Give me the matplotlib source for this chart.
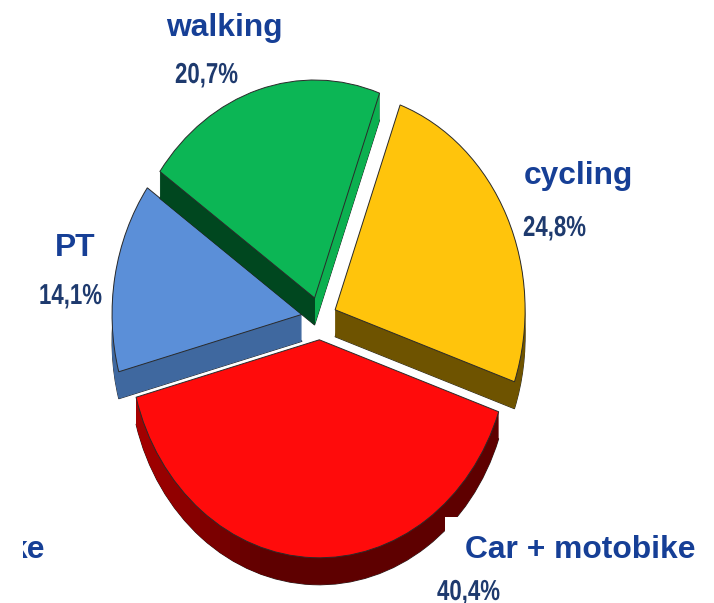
import numpy as np
import matplotlib
matplotlib.use("Agg")
import matplotlib.pyplot as plt
from matplotlib.colors import to_rgb
from matplotlib.patches import Rectangle
from matplotlib.path import Path
from matplotlib.patheffects import AbstractPathEffect
from matplotlib.transforms import Affine2D, Bbox
from matplotlib import font_manager as fm

labels = ["cycling", "Car + motobike", "PT", "walking"]
values = [24.8, 40.4, 14.1, 20.7]
pct_labels = ["24,8%", "40,4%", "14,1%", "20,7%"]
colors = ["#ffc40c", "#ff0b0b", "#5b8fd8", "#0cb655"]
wall_colors = ["#6e5300", "#5e0000", "#3f689f", "#00471f"]
explode = [0.088, 0.10, 0.096, 0.096]

W, H = 714, 603
CX, CY, RX, RY = 320, 318, 190, 218
DEPTH = 27
START = 70
ORDER = {2: 0, 3: 1, 0: 2, 1: 3}   # blue, green, yellow, red

fig = plt.figure(figsize=(W / 100, H / 100), dpi=100, facecolor="white")
ax = fig.add_axes([0, 0, 1, 1])


def draw_pie(dy_px, cols, edge=None, lw=0, z=1):
    wedges, _ = ax.pie(values, explode=explode, colors=cols, startangle=START,
                       counterclock=False, center=(0, -dy_px / RY), radius=1,
                       wedgeprops=dict(edgecolor=edge, linewidth=lw), frame=True)
    for i, w in enumerate(wedges):
        w.set_zorder(z + ORDER[i] * 10)
    return wedges


def clip_x(patch, x0, x1):
    patch.set_clip_on(True)
    patch.set_clip_path(Path([[x0, -5], [x1, -5], [x1, 5], [x0, 5], [x0, -5]]), ax.transData)


# side walls: the pie repeated pixel by pixel downwards
for d in range(DEPTH, 0, -1):
    draw_pie(d, wall_colors, z=1)

# outer outline of the walls
draw_pie(DEPTH, ["none"] * 4, edge="#222222", lw=0.7, z=0)

# lighter right-hand wall of the green slice
for d in range(DEPTH, 0, -1):
    w = draw_pie(d, ["none", "none", "none", "#0cb050"], z=2)
    for j in range(3):
        w[j].set_visible(False)
    clip_x(w[3], w[3].center[0], 5)

# shading of the red rim, brighter to the left
band_edges = np.linspace(130, 270, 15)
c0, c1 = np.array(to_rgb("#a80000")), np.array(to_rgb("#5e0000"))
for k in range(len(band_edges) - 1):
    col = tuple(c0 + (c1 - c0) * k / (len(band_edges) - 2))
    x0, x1 = (band_edges[k] - CX) / RX, (band_edges[k + 1] - CX) / RX
    for d in range(DEPTH, 0, -1):
        w = draw_pie(d, ["none", col, "none", "none"], z=2)
        for j in (0, 2, 3):
            w[j].set_visible(False)
        clip_x(w[1], x0, x1)

# top faces
draw_pie(0, colors, edge="#2a2a2a", lw=0.7, z=5)

ax.set_aspect("auto")
ax.set_xlim(-CX / RX, (W - CX) / RX)
ax.set_ylim((CY - H) / RY, CY / RY)
ax.axis("off")

# white box covering the rim behind the "Car + motobike" label
fig.add_artist(Rectangle((445 / W, 1 - 575 / H), (W - 445) / W, 58 / H,
                         transform=fig.transFigure, facecolor="white",
                         edgecolor="none", zorder=50))


class StretchY(AbstractPathEffect):
    def __init__(self, sy):
        super().__init__()
        self.sy = sy

    def draw_path(self, renderer, gc, tpath, affine, rgbFace=None):
        renderer.draw_path(gc, tpath, Affine2D().scale(1, self.sy) + affine, rgbFace)


names = {f.name for f in fm.fontManager.ttflist}
narrow = "Liberation Sans Narrow" if "Liberation Sans Narrow" in names else "Liberation Sans"
pct_size = 20 if narrow.endswith("Narrow") else 16

LABEL_COLOR = "#163f96"
PCT_COLOR = "#1e3a6e"
label_pos = [(524, 184), (465, 558), (55, 256), (166, 36)]
pct_pos = [(523, 236), (437, 600), (39, 304), (175, 83)]


def px_text(x, y, s, **kw):
    return fig.text(x / W, 1 - y / H, s, zorder=60, **kw)


for s, (x, y) in zip(labels, label_pos):
    px_text(x, y, s, fontsize=22.9, fontweight="bold", family="Liberation Sans",
            color=LABEL_COLOR, ha="left", va="baseline")
for s, (x, y) in zip(pct_labels, pct_pos):
    t = px_text(x, y, s, fontsize=pct_size, fontweight="bold", family=narrow,
                color=PCT_COLOR, ha="left", va="baseline")
    t.set_path_effects([StretchY(1.3)])

# the clipped tail of a cut-off word at the lower left
tail = px_text(45, 558, "ke", fontsize=22.9, fontweight="bold", family="Liberation Sans",
               color=LABEL_COLOR, ha="right", va="baseline")
tail.set_clip_on(True)
tail.set_clip_box(Bbox([[23, 0], [W, H]]))

fig.savefig("out.png", dpi=100, facecolor="white")
